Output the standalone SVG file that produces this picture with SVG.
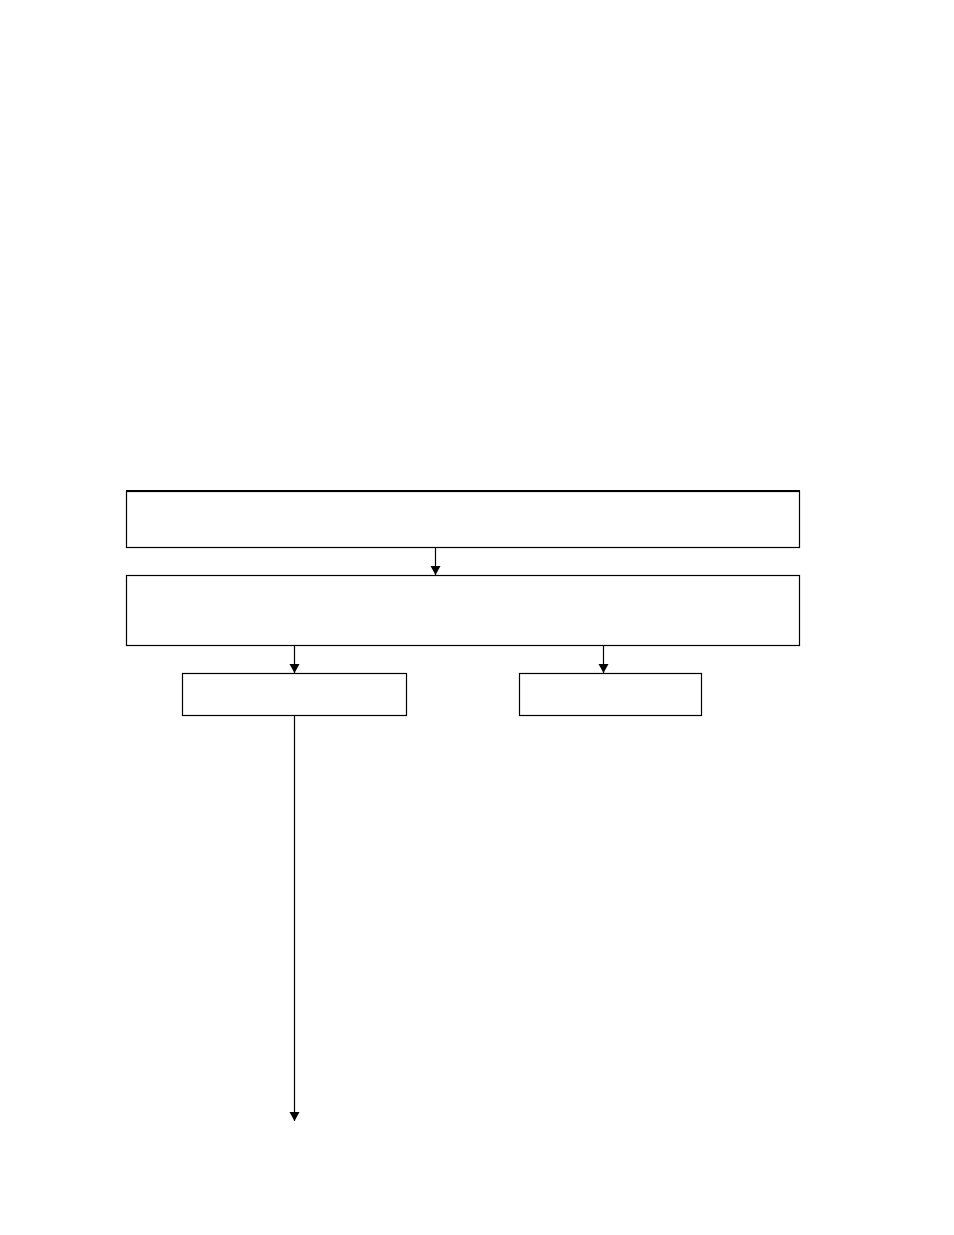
<svg xmlns="http://www.w3.org/2000/svg" width="954" height="1235" viewBox="0 0 954 1235">
<style>
.box{fill:#fff;stroke:#000;stroke-width:1.2}
.conn{stroke:#000;stroke-width:1.2;fill:none}
</style>
<defs>
<marker id="ah" markerUnits="userSpaceOnUse" markerWidth="10" markerHeight="11" refX="9" refY="5" orient="auto">
<path d="M0,0 L9,5 L0,10 z" fill="#000"/>
</marker>
</defs>
<rect width="954" height="1235" fill="#fff"/>
<g id="node1"><rect class="box" x="126.5" y="491.5" width="673" height="56"/><line x1="126" y1="491" x2="800" y2="491" stroke="#000" stroke-width="2"/></g>
<g id="node2"><rect class="box" x="126.5" y="575.5" width="673" height="70"/></g>
<g id="node3"><rect class="box" x="182.5" y="673.5" width="224" height="42"/></g>
<g id="node4"><rect class="box" x="519.5" y="673.5" width="182" height="42"/></g>
<g id="connectors">
<line class="conn" x1="435.5" y1="547.5" x2="435.5" y2="575" marker-end="url(#ah)"/>
<line class="conn" x1="294.5" y1="645.5" x2="294.5" y2="673" marker-end="url(#ah)"/>
<line class="conn" x1="603.5" y1="645.5" x2="603.5" y2="673" marker-end="url(#ah)"/>
<line class="conn" x1="294.5" y1="715.5" x2="294.5" y2="1121" marker-end="url(#ah)"/>
</g>
</svg>
